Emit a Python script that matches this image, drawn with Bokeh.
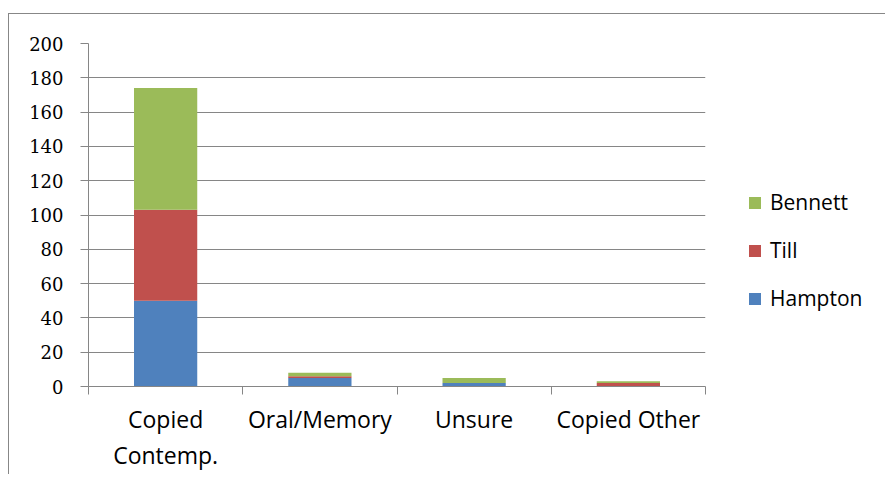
from bokeh.plotting import figure
from bokeh.models import (ColumnDataSource, Range1d, FixedTicker, Legend, LegendItem)
from bokeh.embed import file_html
from bokeh.resources import INLINE

# ---- data ----
categories = ["Copied\nContemp.", "Oral/Memory", "Unsure", "Copied Other"]
series = ["Hampton", "Till", "Bennett"]
hampton = [50, 5, 2, 0]
till = [53, 1, 0, 2]
bennett = [71, 2, 3, 1]
y_ticks = [0, 20, 40, 60, 80, 100, 120, 140, 160, 180, 200]
colors = ["#4F81BD", "#C0504D", "#9BBB59"]

GREY = "#868686"
n = len(categories)
idx = list(range(n))

source = ColumnDataSource(dict(x=idx, Hampton=hampton, Till=till, Bennett=bennett))

p = figure(x_range=Range1d(-0.5, n - 0.5),
           y_range=Range1d(0, 200),
           frame_width=617, frame_height=343,
           output_backend="svg", toolbar_location=None,
           x_axis_location="below", y_axis_location="left",
           min_border_left=79, min_border_right=179,
           min_border_top=29, min_border_bottom=88)
p.margin = (13, 0, 0, 8)
p.styles = {"border-top": "1px solid #878787", "border-left": "1px solid #878787"}
p.outline_line_color = None
p.background_fill_color = "white"
p.border_fill_color = "white"

renderers = p.vbar_stack(series, x="x", width=0.41, color=colors, line_color=None, source=source)

# y axis
yax = p.yaxis[0]
yax.ticker = FixedTicker(ticks=y_ticks)
yax.major_tick_out = 8
yax.major_tick_in = 0
yax.minor_tick_out = 0
yax.minor_tick_in = 0
yax.axis_line_color = GREY
yax.major_tick_line_color = GREY
yax.major_label_text_font = "DejaVu Serif"
yax.major_label_text_font_size = "18px"
yax.major_label_text_color = "black"
yax.major_label_standoff = 17

p.xgrid.visible = False
p.ygrid.ticker = FixedTicker(ticks=y_ticks)
p.ygrid.grid_line_color = GREY
p.ygrid.grid_line_width = 1

# x axis: labels at category centres, tick marks at category edges
xax = p.xaxis[0]
xax.ticker = FixedTicker(ticks=idx, minor_ticks=[i - 0.5 for i in range(n + 1)])
xax.major_label_overrides = {i: categories[i] for i in idx}
xax.major_tick_out = 0
xax.major_tick_in = 0
xax.minor_tick_out = 8
xax.minor_tick_in = 0
xax.axis_line_color = GREY
xax.minor_tick_line_color = GREY
xax.major_label_text_font = "Open Sans"
xax.major_label_text_font_size = "23px"
xax.major_label_text_color = "black"
xax.major_label_standoff = 8
xax.major_label_text_line_height = 1.15

items = [LegendItem(label=series[i], renderers=[renderers[i]]) for i in (2, 1, 0)]
legend = Legend(items=items, location=(42, 74), orientation="vertical",
                glyph_width=15, glyph_height=15, label_standoff=8,
                label_text_font="Open Sans", label_text_font_size="21px",
                label_text_color="black", spacing=20, padding=0, margin=0,
                border_line_color=None, background_fill_alpha=0)
p.add_layout(legend, "right")

open("out.html", "w").write(file_html(p, INLINE))
